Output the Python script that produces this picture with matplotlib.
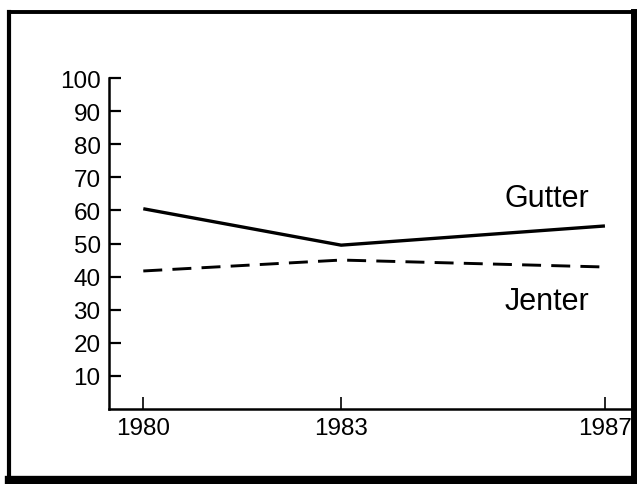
import matplotlib
matplotlib.use("Agg")
import matplotlib.pyplot as plt
from matplotlib.lines import Line2D

# data
years = [1980, 1983, 1987]
gutter = [60.5, 49.5, 55.3]
jenter = [41.7, 45.0, 42.9]
yticks = [10, 20, 30, 40, 50, 60, 70, 80, 90, 100]

plt.rcParams['font.family'] = ['Liberation Sans', 'DejaVu Sans']

fig = plt.figure(figsize=(6.37, 4.85), dpi=100)
W, H = 637, 485

# axes placed in pixels: left spine x=109, bottom spine y=410, top y=79, right x=630
ax = fig.add_axes([109 / W, (H - 410) / H, 521 / W, 331 / H])

ax.plot(years, gutter, color='black', lw=2.4, solid_capstyle='butt')
ax.plot(years, jenter, color='black', lw=2.1, dashes=(6.5, 3.5))

ax.set_xlim(1979.48, 1987.38)
ax.set_ylim(0, 100)
ax.set_xticks(years)
ax.set_xticklabels([str(y) for y in years])
ax.set_yticks(yticks)
ax.set_yticklabels([str(t) for t in yticks])

for side in ['top', 'right']:
    ax.spines[side].set_visible(False)
for side in ['left', 'bottom']:
    ax.spines[side].set_linewidth(1.8)

ax.tick_params(axis='y', direction='in', length=8.5, width=1.6, labelsize=17.5, pad=6)
ax.tick_params(axis='x', direction='in', length=8.5, width=1.2, labelsize=17.5, pad=6)

ax.text(1986.12, 61.3, 'Gutter', ha='center', va='baseline', fontsize=22)
ax.text(1986.12, 30.2, 'Jenter', ha='center', va='baseline', fontsize=22)

# frame around the whole picture, heavier on right and bottom
def frame_line(x0, y0, x1, y1, lw):
    fig.add_artist(Line2D([x0 / W, x1 / W], [1 - y0 / H, 1 - y1 / H],
                          transform=fig.transFigure, color='black', lw=lw,
                          solid_capstyle='projecting'))

frame_line(9, 13, 633, 13, 2.8)
frame_line(9, 13, 9, 480, 3.0)
frame_line(633.5, 13, 633.5, 481, 5.0)
frame_line(9, 480.5, 633, 480.5, 6.0)

fig.savefig('out.png', dpi=100)
